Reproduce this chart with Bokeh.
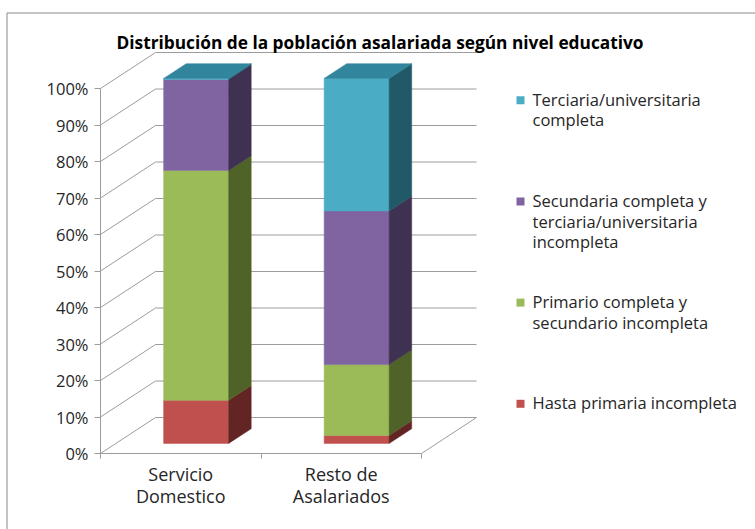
from bokeh.plotting import figure
from bokeh.models import Range1d, LinearAxis, FixedTicker, PrintfTickFormatter
from bokeh.core.properties import value
from bokeh.embed import file_html
from bokeh.resources import INLINE

# ---------------- data ----------------
title = "Distribución de la población asalariada según nivel educativo"
categories = ["Servicio\nDomestico", "Resto de\nAsalariados"]
series_names = [
    "Hasta primaria incompleta",
    "Primario completa y\nsecundario incompleta",
    "Secundaria completa y\nterciaria/universitaria\nincompleta",
    "Terciaria/universitaria\ncompleta",
]
hasta_primaria = [11.8, 2.2]
primario_completa = [63.0, 19.4]
secundaria_completa = [24.9, 42.1]
terciaria_completa = [0.3, 36.3]
y_ticks = [0, 10, 20, 30, 40, 50, 60, 70, 80, 90, 100]

series_values = [hasta_primaria, primario_completa, secundaria_completa, terciaria_completa]
front_colors = ["#C0504D", "#9BBB59", "#8064A2", "#4BACC6"]
side_colors = ["#632523", "#4F6228", "#3F3151", "#215968"]
top_colors = ["#943634", "#76923C", "#604A7B", "#31859C"]

# ---------------- layout ----------------
W, H = 755, 529
PAGE_X0, PAGE_Y0 = 100.0, 453.0       # position of front axis origin
PX_CAT, PX_PCT = 160.5, 3.65          # pixels per category / per percent
FONT = "Open Sans"
TXT = "#262626"
GRID = "#9c9c9c"

def X(px):
    return 0.5 + (px - PAGE_X0) / PX_CAT

def Y(py):
    return (PAGE_Y0 - py) / PX_PCT

DX = 55.0 / PX_CAT
DY = 36.0 / PX_PCT
F0, F1 = 0.28, 0.69
BAR_W = 0.405
x_lo, x_hi = 0.5, 0.5 + len(categories)

p = figure(width=W, height=H, output_backend="svg", toolbar_location=None,
           x_axis_type=None, y_axis_type=None,
           x_range=Range1d(X(0), X(W)), y_range=Range1d(Y(H), Y(0)),
           min_border=0, outline_line_color=None)
p.xgrid.visible = False
p.ygrid.visible = False

# chart-area border
p.line(x=[X(6.5), X(6.5), X(760)], y=[Y(540), Y(12.5), Y(12.5)], line_color="#8a8a8a", line_width=1)

# walls: back gridlines + left wall diagonals
for t in y_ticks:
    p.line(x=[x_lo + DX, x_hi + DX], y=[t + DY, t + DY], line_color=GRID, line_width=1)
    p.line(x=[x_lo, x_lo + DX], y=[t, t + DY], line_color=GRID, line_width=1)
# floor right edge
p.line(x=[x_hi, x_hi + DX], y=[0, DY], line_color=GRID, line_width=1)

# bars (pseudo 3-D)
for i, cat in enumerate(categories):
    c = i + 1
    bottom = 0.0
    top_idx = max(k for k in range(len(series_values)) if series_values[k][i] > 0)
    for k, vals in enumerate(series_values):
        v = vals[i]
        top = bottom + v
        xl = c - BAR_W / 2 + F0 * DX
        xr = c + BAR_W / 2 + F0 * DX
        b0 = bottom + F0 * DY
        t0 = top + F0 * DY
        ddx = (F1 - F0) * DX
        ddy = (F1 - F0) * DY
        # front
        p.patch(x=[xl, xr, xr, xl], y=[b0, b0, t0, t0], fill_color=front_colors[k],
                line_color=front_colors[k], line_width=0.5)
        # side
        p.patch(x=[xr, xr + ddx, xr + ddx, xr], y=[b0, b0 + ddy, t0 + ddy, t0],
                fill_color=side_colors[k], line_color=side_colors[k], line_width=0.5)
        if k == top_idx:
            p.patch(x=[xl, xr, xr + ddx, xl + ddx], y=[t0, t0, t0 + ddy, t0 + ddy],
                    fill_color=top_colors[k], line_color=top_colors[k], line_width=0.5)
        bottom = top

# y axis on the front plane
yaxis = LinearAxis(ticker=FixedTicker(ticks=y_ticks), formatter=PrintfTickFormatter(format="%d%%"),
                   fixed_location=x_lo, bounds=(0, 100))
yaxis.axis_line_color = GRID
yaxis.major_tick_line_color = GRID
yaxis.major_tick_out = 6
yaxis.major_tick_in = 0
yaxis.minor_tick_line_color = None
yaxis.major_label_standoff = 6
yaxis.major_label_text_font = FONT
yaxis.major_label_text_font_size = "16.5px"
yaxis.major_label_text_color = TXT
p.add_layout(yaxis, "left")

# x axis on the front floor edge
cat_pos = [i + 1 for i in range(len(categories))]
xaxis = LinearAxis(ticker=FixedTicker(ticks=cat_pos, minor_ticks=[x_lo + i for i in range(len(categories) + 1)]),
                   fixed_location=0, bounds=(x_lo, x_hi),
                   major_label_overrides={pos: lab for pos, lab in zip(cat_pos, categories)})
xaxis.axis_line_color = GRID
xaxis.major_tick_line_color = None
xaxis.major_tick_out = 0
xaxis.major_tick_in = 0
xaxis.minor_tick_line_color = GRID
xaxis.minor_tick_out = 5
xaxis.minor_tick_in = 0
xaxis.major_label_standoff = 3
xaxis.major_label_text_font = FONT
xaxis.major_label_text_font_size = "18px"
xaxis.major_label_text_color = TXT
xaxis.major_label_text_line_height = 0.92
p.add_layout(xaxis, "below")

# title
p.text(x=[X(379.5)], y=[Y(42)], text=[title], text_align="center", text_baseline="middle",
       text_font=value(FONT), text_font_style="bold", text_font_size="17.3px", text_color="#000000")

# legend (top to bottom: reverse stacking order)
LEG_TOP, LEG_STEP = 99.7, 101.2
for j, k in enumerate(reversed(range(len(series_names)))):
    py = LEG_TOP + j * LEG_STEP
    p.rect(x=[X(520)], y=[Y(py)], width=8, height=8, width_units="screen", height_units="screen",
           fill_color=front_colors[k], line_color=None)
    p.text(x=[X(532)], y=[Y(py - 12.5)], text=[series_names[k]], text_align="left", text_baseline="top",
           text_font=value(FONT), text_font_size="16.5px", text_color=TXT, text_line_height=0.9)

open("out.html", "w").write(file_html(p, INLINE))
